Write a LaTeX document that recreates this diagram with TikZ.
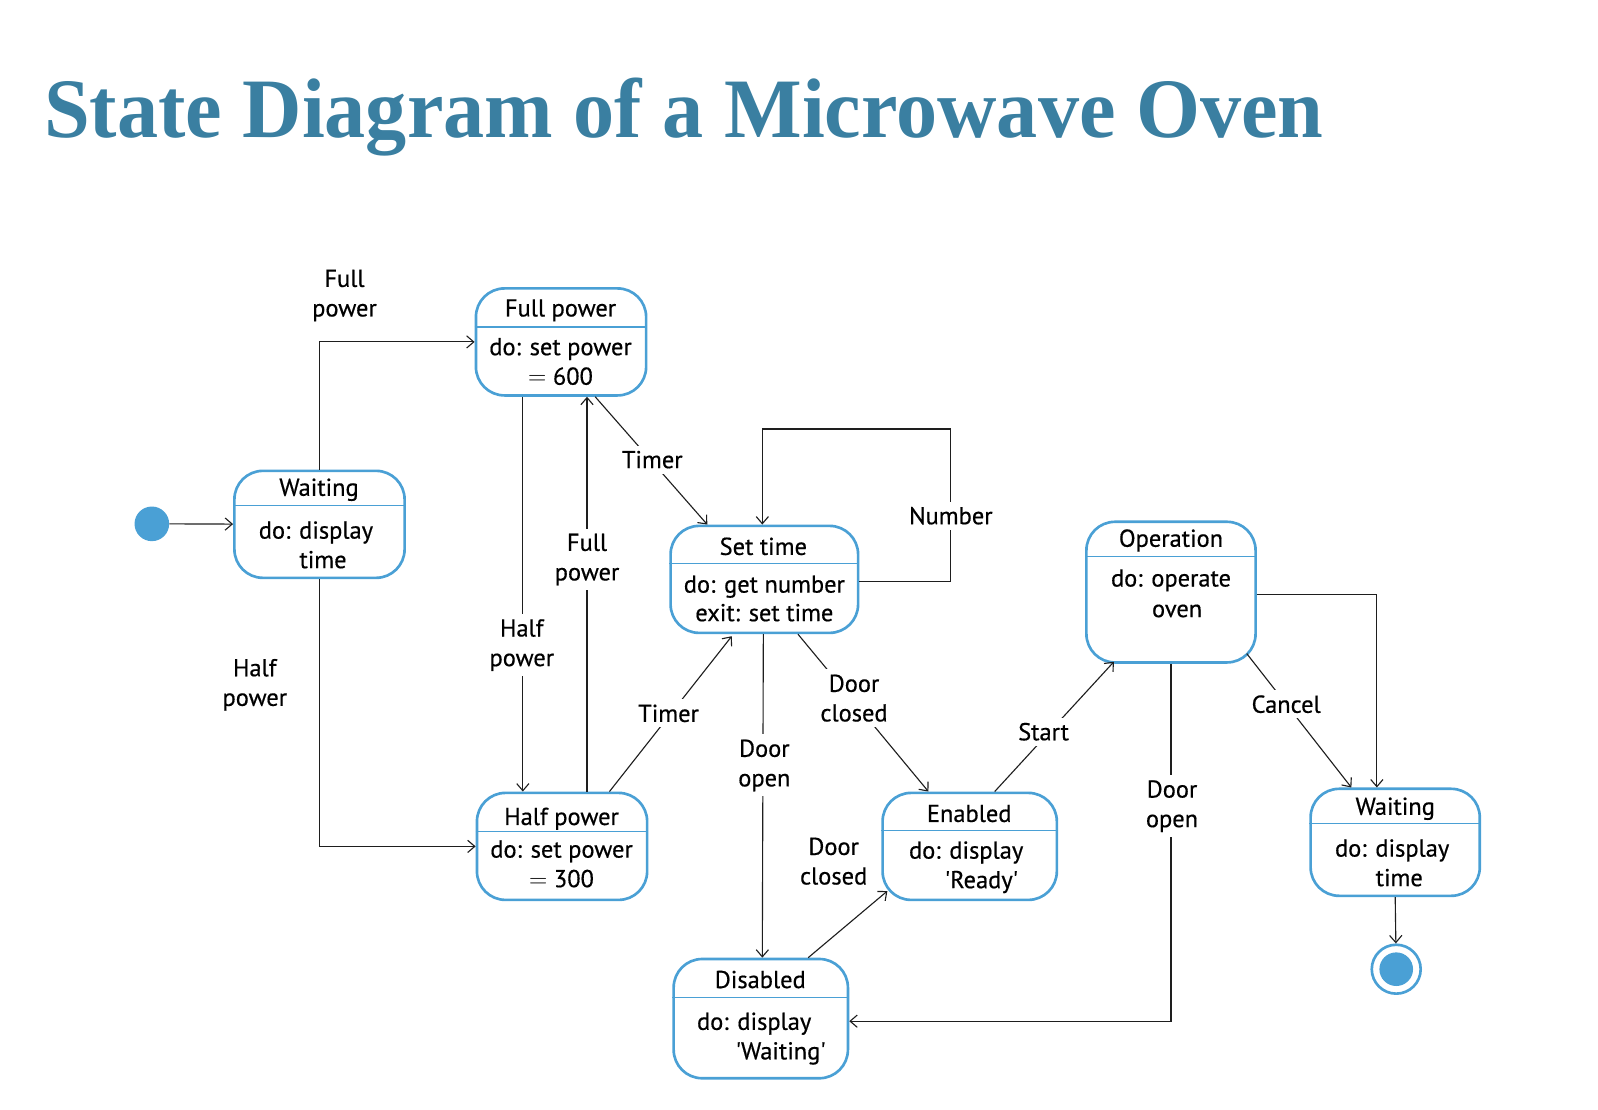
\documentclass[tikz,border=0pt]{standalone}
\usepackage{fontspec}
\setmainfont{PT Sans}[FakeBold=0.5]
\newfontfamily\titlefont{Liberation Serif}
\usetikzlibrary{arrows.meta}
\definecolor{stblue}{RGB}{74,160,213}
\definecolor{ttlblue}{RGB}{58,127,161}
\definecolor{lnblack}{RGB}{30,30,30}
\begin{document}
\begin{tikzpicture}[x=1pt,y=-1pt,
  statebox/.style={draw=stblue, line width=2.6pt, rounded corners=28pt, inner sep=0pt, fill=white},
  divline/.style={draw=stblue, line width=1.3pt},
  stxt/.style={inner sep=0pt, font=\fontsize{24}{29}\selectfont, text height=17pt, text depth=0pt, anchor=center},
  edge/.style={draw=lnblack, line width=1.1pt, -{Straight Barb[length=7pt,width=12pt]}},
  lbl/.style={fill=white, inner sep=5pt, align=center, font=\fontsize{24}{29}\selectfont},
  initst/.style={circle, fill=stblue, inner sep=0pt, minimum size=34pt},
  finst/.style={circle, draw=stblue, line width=2.6pt, fill=white, inner sep=0pt, minimum size=48pt}]
\path[use as bounding box] (0,0) rectangle (1568,1089);

% title
\node[anchor=base west, inner sep=0pt, text=ttlblue,
  font=\titlefont\bfseries\fontsize{83}{83}\selectfont] (title) at (43,135) {\scalebox{0.972}[1]{State Diagram of a Microwave Oven}};

% pseudo states
\node[initst] (init) at (149,514) {};
\node[finst] (fin) at (1370,951) {};
\node[circle, fill=stblue, inner sep=0pt, minimum size=33pt] (finin) at (fin) {};

% states
\node[statebox, minimum width=167pt, minimum height=105pt] (wait1) at (313.5,514.5) {};
\draw[divline] (wait1.west |- 0,496) -- (wait1.east |- 0,496);
\node[stxt] (wait1t) at (313,478) {Waiting};
\node[stxt] (wait1a) at (310,520) {do: display};
\node[stxt] (wait1b) at (317,549) {time};

\node[statebox, minimum width=167pt, minimum height=105pt] (fp) at (550.5,335.5) {};
\draw[divline] (fp.west |- 0,321) -- (fp.east |- 0,321);
\node[stxt] (fpt) at (550,302) {Full power};
\node[stxt] (fpa) at (550,340) {do: set power};
\node[stxt] (fpb) at (550,369) {$=$ 600};

\node[statebox, minimum width=167pt, minimum height=105pt] (hp) at (551.5,830.5) {};
\draw[divline] (hp.west |- 0,816) -- (hp.east |- 0,816);
\node[stxt] (hpt) at (551,801) {Half power};
\node[stxt] (hpa) at (551,833) {do: set power};
\node[stxt] (hpb) at (551,862) {$=$ 300};

\node[statebox, minimum width=184pt, minimum height=105pt] (st) at (750,568.5) {};
\draw[divline] (st.west |- 0,553) -- (st.east |- 0,553);
\node[stxt] (stt) at (749,536) {Set time};
\node[stxt] (sta) at (750,573) {do: get number};
\node[stxt] (stb) at (750,601) {exit: set time};

\node[statebox, minimum width=166pt, minimum height=138pt] (op) at (1149,581) {};
\draw[divline] (op.west |- 0,546) -- (op.east |- 0,546);
\node[stxt] (opt) at (1149,528) {Operation};
\node[stxt] (opa) at (1149,567) {do: operate};
\node[stxt] (opb) at (1155,597) {oven};

\node[statebox, minimum width=171pt, minimum height=105pt] (en) at (951.5,830.5) {};
\draw[divline] (en.west |- 0,815) -- (en.east |- 0,815);
\node[stxt] (ent) at (951,798) {Enabled};
\node[stxt] (ena) at (948,834) {do: display};
\node[stxt] (enb) at (963,863) {\textquotesingle Ready\textquotesingle};

\node[statebox, minimum width=171pt, minimum height=117pt] (dis) at (746.5,999.5) {};
\draw[divline] (dis.west |- 0,979) -- (dis.east |- 0,979);
\node[stxt] (dist) at (746,961) {Disabled};
\node[stxt] (disa) at (740,1002) {do: display};
\node[stxt] (disb) at (766,1031) {\textquotesingle Waiting\textquotesingle};

\node[statebox, minimum width=166pt, minimum height=105pt] (wait2) at (1369,826.5) {};
\draw[divline] (wait2.west |- 0,808) -- (wait2.east |- 0,808);
\node[stxt] (wait2t) at (1369,791) {Waiting};
\node[stxt] (wait2a) at (1366,832) {do: display};
\node[stxt] (wait2b) at (1373,861) {time};

% transitions
\coordinate (loopc) at (933,421);
\draw[edge] (init) -- (wait1);
\draw[edge] (wait1.north) |- (fp.west);
\draw[edge] (wait1.south) |- (hp.west);
\draw[edge] ([xshift=-37.5pt]fp.south) -- ([xshift=-38.5pt]hp.north);
\draw[edge] ([xshift=24.5pt]hp.north) -- ([xshift=25.5pt]fp.south);
\draw[edge] ([xshift=33.5pt]fp.south) -- ([xshift=-56pt]st.north);
\draw[edge] ([xshift=46.5pt]hp.north) -- ([xshift=-32pt,yshift=-2pt]st.south);
\draw[edge] ([yshift=-2.5pt]st.east) -| (loopc) -| ([xshift=-2pt]st.north);
\draw[edge] ([xshift=-1pt]st.south) -- ([xshift=1.5pt]dis.north);
\draw[edge] ([xshift=33pt]st.south) -- ([xshift=-40.5pt]en.north);
\draw[edge] ([xshift=46.5pt]dis.north) -- ([xshift=6pt,yshift=10pt]en.south west);
\draw[edge] ([xshift=24.5pt]en.north) -- ([xshift=-56pt,yshift=2pt]op.south);
\draw[edge] (op.south) |- ([yshift=-2.5pt]dis.east);
\draw[edge] ([xshift=-10pt,yshift=10pt]op.south east) -- ([xshift=-43pt]wait2.north);
\draw[edge] ([yshift=-2pt]op.east) -| ([xshift=-18pt]wait2.north);
\draw[edge] (wait2.south) -- (fin);

% transition labels
\node[lbl] (l1) at (338,290) {Full\\power};
\node[lbl] (l2) at (250,672) {Half\\power};
\node[lbl] (l3) at (512,633) {Half\\power};
\node[lbl] (l4) at (576,549) {Full\\power};
\node[lbl] (l5) at (640,451) {Timer};
\node[lbl] (l6) at (656,700) {Timer};
\node[lbl] (l7) at (933,506) {Number};
\node[lbl] (l8) at (750,751) {Door\\open};
\node[lbl] (l9) at (838,685) {Door\\closed};
\node[lbl] (l10) at (818,845) {Door\\closed};
\node[lbl] (l11) at (1024,718) {Start};
\node[lbl] (l12) at (1150,791) {Door\\open};
\node[lbl] (l13) at (1262,691) {Cancel};
\end{tikzpicture}
\end{document}
